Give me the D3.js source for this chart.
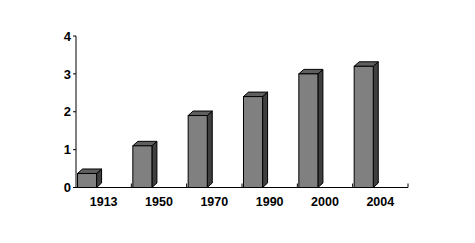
<!DOCTYPE html>
<html><head><meta charset="utf-8">
<script src="https://cdn.jsdelivr.net/npm/d3@7"></script>
<style>html,body{margin:0;padding:0;background:#fff;}svg{display:block;}</style>
</head><body>
<script>
const categories = ["1913","1950","1970","1990","2000","2004"];
const values = [0.37, 1.1, 1.9, 2.4, 3.0, 3.2];
const yTicks = [0,1,2,3,4];

const W = 475, H = 243;
const svg = d3.select("body").append("svg").attr("width", W).attr("height", H);
const x = d3.scaleBand().domain(categories).range([76, 408]).padding(0);
const y = d3.scaleLinear().domain([0,4]).range([187.5, 36]);
const bw = x.bandwidth();
const fw = bw * 0.345, off = bw * 0.027, dx = 5, dy = -4.5;
const font = "'Liberation Sans', Arial, sans-serif";

const g = svg.append("g");
categories.forEach((c, i) => {
  const x0 = x(c) + off, x1 = x0 + fw;
  const yt = y(values[i]), yb = y(0);
  // side
  g.append("path").attr("d", `M${x1},${yb} L${x1},${yt} L${x1+dx},${yt+dy} L${x1+dx},${yb+dy} L${x1},${yb} Z`)
    .attr("fill", "#3f3f3f").attr("stroke", "#000").attr("stroke-width", 1);
  // top
  g.append("path").attr("d", `M${x0},${yt} L${x0+dx},${yt+dy} L${x1+dx},${yt+dy} L${x1},${yt} Z`)
    .attr("fill", "#5f5f5f").attr("stroke", "#000").attr("stroke-width", 1);
  // front
  g.append("rect").attr("x", x0).attr("y", yt).attr("width", fw).attr("height", yb - yt)
    .attr("fill", "#808080").attr("stroke", "#000").attr("stroke-width", 1);
});

// Y axis
const ya = svg.append("g");
ya.append("line").attr("x1", 76).attr("x2", 76).attr("y1", y(4)).attr("y2", y(0)).attr("stroke", "#000");
yTicks.forEach(t => {
  ya.append("line").attr("x1", 73).attr("x2", 76).attr("y1", y(t)).attr("y2", y(t)).attr("stroke", "#000");
  ya.append("text").attr("x", 71).attr("y", y(t)).attr("dy", "0.36em").attr("text-anchor", "end")
    .attr("font-family", font).attr("font-weight", "bold").attr("font-size", 13).text(t);
});

// X axis
const xa = svg.append("g");
xa.append("line").attr("x1", 76).attr("x2", 408).attr("y1", y(0)).attr("y2", y(0)).attr("stroke", "#000");
categories.forEach((c, i) => {
  if (i > 0) xa.append("line").attr("x1", x(c)).attr("x2", x(c)).attr("y1", y(0)).attr("y2", y(0) - 4).attr("stroke", "#000");
  xa.append("text").attr("x", x(c) + bw / 2).attr("y", 206).attr("text-anchor", "middle")
    .attr("font-family", font).attr("font-weight", "bold").attr("font-size", 12.5).text(c);
});
xa.append("line").attr("x1", 408).attr("x2", 408).attr("y1", y(0)).attr("y2", y(0) - 4).attr("stroke", "#000");
</script>
</body></html>
